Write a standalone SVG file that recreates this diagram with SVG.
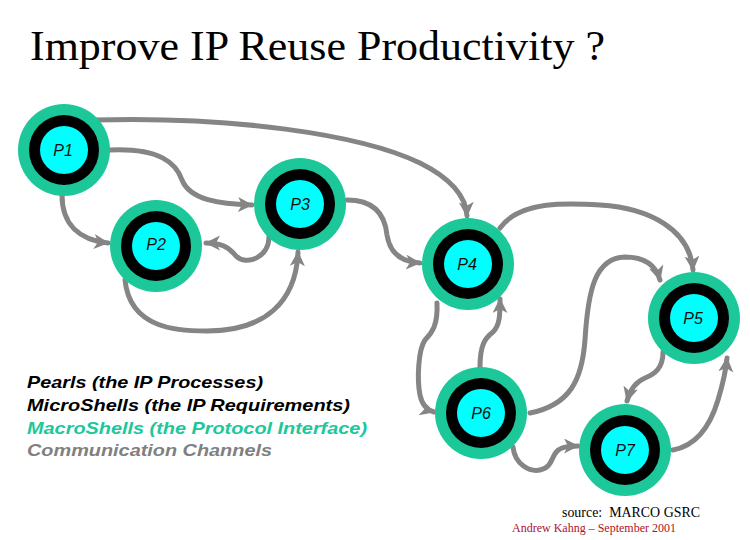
<svg xmlns="http://www.w3.org/2000/svg" width="750" height="540" viewBox="0 0 750 540">
<style>
.outer{fill:#1CC89A}
.ring{fill:#000}
.core{fill:#00FFFF}
.lbl{font-family:"Liberation Sans",Arial,sans-serif;font-style:italic;font-size:16px;fill:#111;text-anchor:middle}
.conn{fill:none;stroke:#858585;stroke-width:5;stroke-linecap:round;stroke-linejoin:round}
.leg{font-family:"Liberation Sans",Arial,sans-serif;font-style:italic;font-weight:bold;font-size:17px}
</style>
<defs>
<marker id="ah" markerUnits="userSpaceOnUse" markerWidth="18" markerHeight="16" refX="14" refY="7.5" orient="auto">
<path d="M0,0 L15,7.5 L0,15 L4,7.5 Z" fill="#858585"/>
</marker>
<g id="pearl">
<circle r="46" class="outer"/>
<circle r="35" class="ring"/>
<circle r="24" class="core"/>
</g>
</defs>
<rect width="750" height="540" fill="#fff"/>
<text x="30" y="60" font-family="'Liberation Serif','Times New Roman',serif" font-size="42" textLength="575" lengthAdjust="spacingAndGlyphs">Improve IP Reuse Productivity ?</text>

<g id="connectors">
<path class="conn" marker-end="url(#ah)" d="M93,120 C230,116 360,134 420,163 C452,179 466,196 467,216"/>
<path class="conn" marker-end="url(#ah)" d="M110,150 C160,148 176,163 182,180 C190,200 220,204 252,205"/>
<path class="conn" marker-end="url(#ah)" d="M62,195 C62,225 80,240 108,243"/>
<path class="conn" marker-end="url(#ah)" d="M269,235 C270,258 246,266 236,256 C228,246 220,243 206,243"/>
<path class="conn" marker-end="url(#ah)" d="M125,280 C130,330 180,331 207,331 C265,331 296,302 298,252"/>
<path class="conn" marker-end="url(#ah)" d="M347,200 C375,200 385,215 387,235 C390,255 404,262 420,263"/>
<path class="conn" marker-end="url(#ah)" d="M500,228 C520,200 570,203 600,205 C650,208 690,230 693,270"/>
<path class="conn" marker-end="url(#ah)" d="M530,413 C570,405 582,380 585,340 C588,290 595,258 625,257 C645,257 656,266 660,280"/>
<path class="conn" marker-end="url(#ah)" d="M437,303 C438,325 432,333 425,340 C418,350 417,380 420,395 C422,405 427,410 434,412"/>
<path class="conn" marker-end="url(#ah)" d="M480,367 C480,345 485,338 493,332 C500,325 500,315 500,299"/>
<path class="conn" marker-end="url(#ah)" d="M663,352 C663,368 655,374 645,378 C635,382 630,390 627,401"/>
<path class="conn" marker-end="url(#ah)" d="M673,450 C700,445 712,420 718,400 C724,380 726,370 727,358"/>
<path class="conn" marker-end="url(#ah)" d="M513,447 C515,465 530,472 540,470 C555,467 550,452 562,448 C568,446 572,446 578,446"/>
</g>

<g id="P1"><use href="#pearl" x="64" y="150"/><text class="lbl" x="63" y="156">P1</text></g>
<g id="P2"><use href="#pearl" x="156" y="246"/><text class="lbl" x="156" y="250">P2</text></g>
<g id="P3"><use href="#pearl" x="300" y="204"/><text class="lbl" x="300" y="210">P3</text></g>
<g id="P4"><use href="#pearl" x="468" y="264"/><text class="lbl" x="467" y="270">P4</text></g>
<g id="P5"><use href="#pearl" x="694" y="318"/><text class="lbl" x="693" y="324">P5</text></g>
<g id="P6"><use href="#pearl" x="481" y="413"/><text class="lbl" x="481" y="419">P6</text></g>
<g id="P7"><use href="#pearl" x="625" y="450"/><text class="lbl" x="625" y="456">P7</text></g>

<g id="legend">
<text class="leg" x="27" y="388" fill="#000" textLength="236" lengthAdjust="spacingAndGlyphs">Pearls (the IP Processes)</text>
<text class="leg" x="27" y="411" fill="#000" textLength="323" lengthAdjust="spacingAndGlyphs">MicroShells (the IP Requirements)</text>
<text class="leg" x="27" y="434" fill="#1CC89A" textLength="340" lengthAdjust="spacingAndGlyphs">MacroShells (the Protocol Interface)</text>
<text class="leg" x="27" y="456" fill="#808080" textLength="245" lengthAdjust="spacingAndGlyphs">Communication Channels</text>
</g>

<text x="562" y="517" font-family="'Liberation Serif','Times New Roman',serif" font-size="15" textLength="138" lengthAdjust="spacingAndGlyphs">source:&#160; MARCO GSRC</text>
<text x="512" y="532" font-family="'Liberation Serif','Times New Roman',serif" font-size="13" fill="#B0102A" textLength="164" lengthAdjust="spacingAndGlyphs">Andrew Kahng – September 2001</text>
</svg>
